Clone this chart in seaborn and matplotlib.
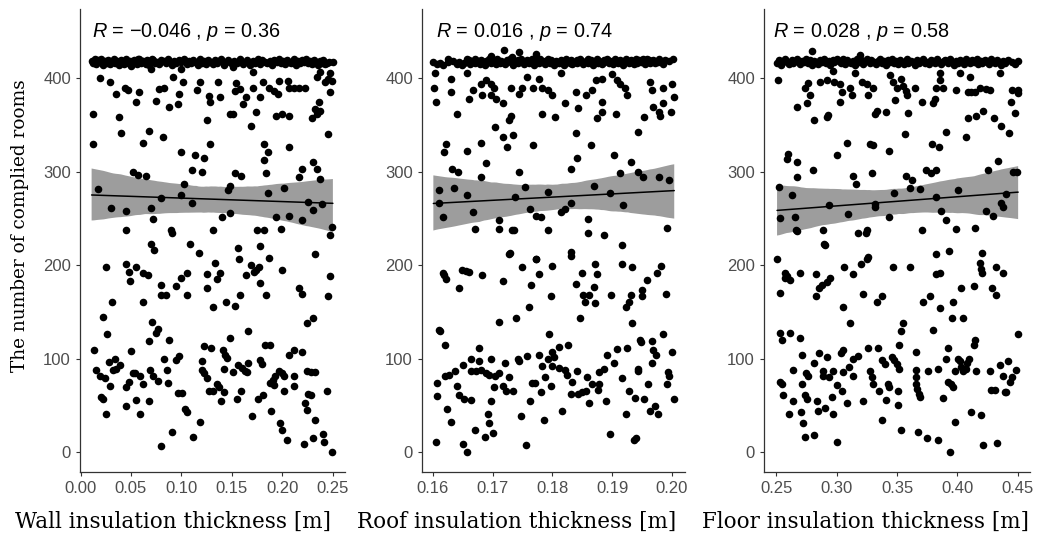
import matplotlib
matplotlib.use("Agg")
import matplotlib.pyplot as plt
import seaborn as sns
import pandas as pd

# ---------------- data ----------------
# Panel 1: wall insulation thickness [m] vs number of complied rooms
wall_x = [
    .019, .029, .035, .044, .047, .055, .058, .012, .012, .038,
    .040, .062, .068, .082, .075, .078, .083, .088, .097, .098,
    .102, .092, .100, .070, .125, .115, .118, .127, .128, .136,
    .138, .148, .151, .151, .154, .158, .153, .164, .161, .171,
    .171, .178, .174, .169, .181, .187, .192, .196, .194, .200,
    .207, .197, .206, .207, .211, .216, .222, .229, .234, .232,
    .237, .236, .245, .247, .234, .242, .249, .237, .247, .245,
    .052, .057, .065, .100, .113, .122, .110, .120, .128, .153,
    .159, .182, .186, .182, .184, .207, .219, .216, .230, .234, .237,
    .017, .103, .100, .080, .110, .148, .146, .186, .202, .225,
    .230, .239, .030, .045, .070, .072, .045, .090, .091, .131,
    .148, .140, .175, .182, .194, .207, .199, .219, .249, .247,
    .070, .073, .108, .156, .178, .232,
    .025, .045, .048, .049, .055, .062, .067, .031, .062, .022,
    .026, .071, .077, .075, .068, .080, .080, .085, .095, .100,
    .105, .105, .117, .125, .125, .133, .135, .138, .131, .144,
    .153, .157, .158, .164, .169, .174, .177, .178, .172, .187,
    .184, .200, .216, .219, .247, .245, .224, .230, .166,
    .013, .015, .019, .024, .020, .022, .025, .028, .029, .034,
    .035, .039, .032, .045, .048, .050, .052, .054, .045, .055,
    .059, .059, .062, .068, .069, .072, .077, .080, .083, .086,
    .088, .087, .091, .095, .098, .097, .101, .104, .105, .111,
    .118, .120, .122, .125, .120, .122, .129, .127, .131, .135,
    .137, .139, .142, .141, .143, .145, .142, .148, .151, .155,
    .159, .156, .160, .163, .166, .165, .170, .176, .181, .178,
    .180, .183, .188, .188, .191, .193, .192, .189, .197, .200,
    .202, .198, .200, .205, .202, .207, .211, .211, .211, .219,
    .221, .222, .224, .224, .228, .232, .225, .228, .230, .232,
    .240, .241, .244, .249,
]
wall_y = [
    400, 396, 383, 390, 387, 374, 385, 362, 330, 358,
    341, 331, 343, 337, 376, 388, 390, 369, 372, 383,
    396, 401, 410, 410, 355, 387, 396, 381, 374, 396,
    380, 362, 362, 412, 395, 388, 386, 380, 372, 407,
    390, 380, 364, 349, 396, 390, 386, 383, 360, 362,
    360, 397, 397, 390, 389, 389, 389, 357, 362, 367,
    365, 374, 340, 385, 401, 396, 397, 407, 406, 399,
    300, 296, 295, 321, 318, 315, 302, 300, 330, 298,
    295, 330, 321, 312, 298, 326, 303, 294, 310, 303, 292,
    281, 287, 275, 272, 266, 285, 280, 277, 282, 267,
    259, 265, 261, 258, 261, 249, 237, 237, 234, 237,
    256, 251, 237, 238, 251, 252, 239, 248, 241, 232,
    223, 216, 223, 218, 220, 212,
    198, 201, 193, 183, 198, 191, 189, 160, 161, 144,
    126, 139, 132, 127, 119, 179, 168, 168, 178, 186,
    191, 168, 213, 190, 175, 202, 185, 192, 155, 161,
    156, 206, 168, 189, 200, 195, 198, 181, 193, 208,
    168, 195, 175, 169, 188, 167, 138, 143, 130,
    109, 88, 81, 79, 59, 57, 41, 96, 71, 100,
    89, 93, 88, 70, 75, 108, 85, 85, 49, 56,
    41, 81, 73, 55, 88, 81, 76, 6, 100, 88,
    120, 74, 21, 98, 103, 63, 63, 46, 43, 16,
    32, 88, 84, 79, 97, 113, 111, 65, 65, 73,
    70, 55, 64, 109, 104, 101, 89, 122, 86, 57,
    65, 93, 90, 87, 95, 86, 39, 57, 61, 98,
    94, 114, 114, 74, 77, 81, 72, 44, 87, 84,
    81, 31, 24, 13, 65, 104, 109, 81, 71, 107,
    9, 52, 45, 87, 86, 86, 62, 61, 15, 34,
    19, 11, 65, 0,
]
# dense band of points near the maximum (about 415-420 rooms)
wall_top_x = [
    .011, .012, .014, .015, .017, .019, .020, .022, .024, .026,
    .027, .029, .031, .033, .034, .036, .038, .040, .041, .043,
    .045, .047, .049, .050, .053, .055, .056, .058, .060, .062,
    .064, .066, .068, .069, .071, .074, .076, .078, .080, .083,
    .085, .087, .089, .091, .093, .095, .098, .100, .103, .105,
    .107, .109, .111, .113, .116, .118, .120, .122, .124, .126,
    .128, .131, .133, .135, .137, .139, .142, .144, .146, .149,
    .152, .155, .158, .161, .163, .165, .168, .171, .173, .176,
    .178, .180, .183, .185, .188, .190, .192, .195, .197, .199,
    .201, .203, .205, .207, .209, .211, .213, .215, .217, .219,
    .221, .223, .225, .227, .229, .231, .233, .235, .237, .239,
    .240, .052, .242, .057, .244, .061, .246, .065, .072, .250,
]
wall_top_y = [
    418, 416, 420, 415, 419, 417, 421, 414, 418, 416,
    419, 415, 417, 420, 416, 418, 414, 419, 417, 415,
    420, 416, 418, 413, 419, 417, 415, 421, 416, 418,
    417, 419, 414, 418, 420, 416, 417, 415, 419, 418,
    416, 420, 417, 414, 418, 416, 419, 417, 421, 415,
    418, 416, 419, 417, 414, 420, 416, 418, 415, 419,
    417, 415, 419, 416, 418, 420, 414, 417, 419, 416,
    418, 416, 420, 415, 417, 419, 414, 418, 416, 420,
    415, 419, 417, 416, 418, 414, 419, 417, 420, 416,
    418, 415, 419, 417, 416, 420, 414, 418, 416, 419,
    417, 420, 416, 418, 415, 419, 417, 414, 418, 416,
    419, 417, 415, 420, 416, 418, 417, 415, 419, 417,
]

# Panel 2: roof insulation thickness [m]
roof_x = [
    .1720, .1744, .1773, .1697, .1733, .1603, .1602, .1606, .1631, .1631,
    .1640, .1661, .1667, .1657, .1681, .1689, .1682, .1697, .1706, .1703,
    .1697, .1717, .1731, .1731, .1728, .1744, .1750, .1758, .1767, .1778,
    .1783, .1792, .1800, .1783, .1804, .1822, .1814, .1839, .1843, .1856,
    .1867, .1873, .1883, .1875, .1883, .1883, .1906, .1900, .1908, .1914,
    .1922, .1925, .1964, .1967, .1953, .1969, .1978, .1981, .1986, .2000,
    .2003, .1999, .1986,
    .1622, .1619, .1633, .1642, .1657, .1681, .1689, .1681, .1704, .1718,
    .1734, .1725, .1744, .1767, .1831, .1839, .1842, .1864, .1903, .1931,
    .1944, .1914, .1944, .1951, .1978, .1996,
    .1611, .1610, .1617, .1636, .1658, .1667, .1671, .1711, .1711, .1733,
    .1736, .1738, .1754, .1762, .1772, .1781, .1792, .1792, .1814, .1822,
    .1831, .1860, .1860, .1869, .1886, .1897, .1918, .1992, .1916, .1728,
    .1772, .1831, .1831,
    .1606, .1607, .1607, .1610, .1612, .1617, .1619, .1622, .1621, .1621,
    .1628, .1638, .1624, .1631, .1640, .1644, .1644, .1653, .1664, .1650,
    .1649, .1656, .1661, .1651, .1657, .1664, .1677, .1664, .1672, .1678,
    .1681, .1671, .1682, .1689, .1694, .1697, .1687, .1693, .1694, .1697,
    .1701, .1702, .1704, .1710, .1710, .1717, .1717, .1721, .1723, .1727,
    .1729, .1734, .1739, .1743, .1744, .1747, .1750, .1756, .1757, .1761,
    .1762, .1764, .1766, .1771, .1772, .1777, .1778, .1781, .1782, .1786,
    .1788, .1794, .1797, .1799, .1797, .1793, .1800, .1803, .1800, .1811,
    .1811, .1817, .1822, .1825, .1827, .1833, .1832, .1843, .1850, .1857,
    .1840, .1842, .1847, .1849, .1851, .1854, .1861, .1858, .1862, .1867,
    .1869, .1871, .1875, .1872, .1877, .1878, .1878, .1886, .1889, .1892,
    .1897, .1899, .1903, .1908, .1916, .1916, .1923, .1925, .1923, .1928,
    .1932, .1928, .1933, .1933, .1936, .1940, .1938, .1943, .1944, .1946,
    .1949, .1950, .1950, .1954, .1958, .1960, .1964, .1966, .1966, .1969,
    .1973, .1972, .1977, .1975, .1982, .1986, .1990, .1992, .1994, .1996,
    .2000, .2004,
]
roof_y = [
    430, 428, 426, 424, 423, 405, 390, 374, 399, 385,
    362, 378, 387, 406, 394, 398, 382, 382, 378, 389,
    394, 373, 389, 360, 355, 383, 389, 401, 390, 399,
    389, 387, 382, 362, 358, 373, 406, 385, 368, 382,
    387, 398, 399, 357, 364, 374, 362, 404, 398, 394,
    390, 382, 396, 387, 358, 369, 364, 360, 373, 394,
    380, 364, 390,
    330, 321, 303, 300, 322, 331, 309, 294, 348, 337,
    339, 326, 300, 329, 303, 341, 315, 329, 318, 310,
    342, 298, 300, 294, 294, 291,
    280, 266, 251, 282, 275, 257, 239, 248, 239, 237,
    238, 273, 284, 260, 253, 251, 278, 237, 257, 260,
    266, 249, 234, 285, 232, 277, 264, 240, 222, 212,
    207, 214, 210,
    11, 74, 60, 131, 130, 192, 189, 185, 114, 81,
    82, 87, 46, 32, 71, 175, 61, 57, 56, 93,
    195, 194, 193, 9, 0, 99, 111, 87, 87, 97,
    88, 24, 189, 85, 82, 99, 16, 41, 31, 55,
    20, 70, 81, 85, 139, 183, 71, 95, 65, 80,
    213, 65, 143, 100, 97, 39, 198, 7, 103, 155,
    55, 179, 74, 74, 206, 104, 190, 64, 92, 34,
    80, 126, 167, 199, 71, 100, 107, 102, 92, 90,
    112, 44, 88, 82, 114, 75, 62, 62, 64, 65,
    180, 87, 143, 191, 168, 161, 168, 80, 52, 73,
    177, 201, 190, 159, 66, 73, 86, 89, 55, 104,
    19, 168, 95, 110, 201, 79, 41, 111, 155, 161,
    168, 65, 198, 138, 13, 15, 58, 87, 89, 120,
    118, 173, 167, 57, 184, 73, 44, 119, 95, 109,
    104, 49, 41, 192, 199, 126, 169, 73, 86, 81,
    107, 57,
]
roof_top_x = [
    .1601, .1945, .1607, .1952, .1612, .1957, .1617, .1962, .1625, .1626,
    .1971, .1634, .1979, .1640, .1989, .1644, .1649, .1995, .1653, .1658,
    .1661, .1662, .1667, .1670, .1671, .1676, .1679, .1680, .1685, .1688,
    .1689, .1694, .1697, .1698, .1703, .1706, .1707, .1712, .1715, .1716,
    .1721, .1724, .1725, .1730, .1733, .1734, .1739, .1742, .1743, .1748,
    .1751, .1752, .1757, .1760, .1761, .1766, .1769, .1770, .1775, .1778,
    .1779, .1784, .1787, .1788, .1793, .1796, .1797, .1802, .1805, .1806,
    .1811, .1814, .1815, .1820, .1823, .1824, .1829, .1832, .1833, .1838,
    .1841, .1842, .1847, .1850, .1851, .1856, .1859, .1860, .1865, .1868,
    .1869, .1874, .1877, .1878, .1883, .1886, .1887, .1892, .1895, .1896,
    .1901, .1904, .1905, .1910, .1913, .1914, .1919, .1922, .1923, .1928,
    .1931, .1932, .1937, .1940, .1941, .1946, .1949, .1950, .1955, .1958,
    .1959, .1964, .1968, .1976, .1985, .2002,
]
roof_top_y = [
    417, 419, 415, 420, 416, 418, 414, 419, 417, 421,
    416, 418, 420, 415, 419, 417, 414, 418, 416, 420,
    419, 415, 417, 421, 416, 418, 415, 419, 417, 414,
    418, 420, 416, 417, 419, 415, 421, 416, 418, 417,
    415, 419, 417, 420, 416, 414, 418, 419, 416, 421,
    417, 415, 419, 418, 416, 420, 414, 417, 419, 416,
    420, 417, 415, 418, 421, 416, 419, 414, 417, 418,
    416, 419, 417, 414, 420, 418, 416, 419, 415, 417,
    419, 416, 420, 417, 415, 418, 421, 416, 419, 414,
    417, 420, 416, 418, 415, 419, 417, 421, 416, 418,
    415, 418, 420, 416, 419, 417, 414, 418, 420, 416,
    419, 417, 415, 420, 416, 418, 417, 419, 415, 421,
    418, 416, 419, 417, 415, 420,
]

# Panel 3: floor insulation thickness [m]
floor_x = [
    .2794, .3193, .2519, .2670, .2739, .2767, .2780, .2759, .2814, .2863,
    .2918, .2979, .2932, .2918, .2973, .3028, .3042, .3028, .3124, .3110,
    .3152, .3212, .3248, .3262, .3303, .3317, .3336, .3408, .3441, .3468,
    .3496, .3482, .3537, .3551, .3573, .3584, .3592, .3647, .3565, .3708,
    .3798, .3812, .3826, .3859, .3881, .3853, .3908, .3991, .4019, .4087,
    .4115, .4142, .4101, .4087, .4156, .4211, .4068, .4183, .4233, .4266,
    .4299, .4362, .4426, .4445, .4472, .4453, .4498, .4502, .4349,
    .2602, .2594, .2670, .2676, .2808, .3001, .3083, .3138, .3160, .3276,
    .3298, .3290, .3435, .3573, .3628, .3606, .3793, .3848, .3738, .3785,
    .3826, .4252, .4335, .4461, .4496,
    .2527, .2629, .2533, .2657, .2665, .2676, .2885, .2896, .2940, .3097,
    .3179, .3248, .3242, .3317, .3317, .3435, .3474, .3688, .3710, .3826,
    .3867, .3908, .3991, .4005, .4142, .4233, .4294, .4362, .4376, .4404,
    .3826, .3931, .4206, .3262, .2511,
    .2533, .2574, .2589, .2616, .2574, .2698, .2830, .2830, .2857, .2876,
    .2918, .2946, .2904, .3064, .3056, .3111, .3133, .3199, .3254, .3221,
    .3336, .3372, .3463, .3551, .3537, .3611, .3716, .3777, .3798, .3826,
    .3859, .3853, .3964, .3958, .4046, .4032, .4134, .4186, .4192, .4199,
    .4316, .4288, .4316, .4376,
    .2531, .2547, .2616, .2536, .2547, .2555, .2610, .2638, .2638, .2698,
    .2712, .2712, .2706, .2726, .2739, .2753, .2739, .2748, .2767, .2814,
    .2814, .2836, .2850, .2858, .2885, .2891, .2904, .2924, .2940, .2959,
    .2968, .2973, .3006, .3001, .3034, .3056, .3042, .3056, .3083, .3105,
    .3138, .3180, .3138, .3215, .3262, .3276, .3290, .3298, .3345, .3353,
    .3372, .3400, .3380, .3413, .3427, .3435, .3457, .3474, .3496, .3510,
    .3510, .3518, .3518, .3537, .3661, .3661, .3661, .3661, .3667, .3683,
    .3688, .3675, .3749, .3757, .3840, .3840, .3881, .3903, .3922, .3922,
    .3950, .3964, .3942, .3977, .3977, .4005, .4019, .4032, .4046, .4074,
    .4082, .4096, .4115, .4134, .4142, .4156, .4197, .4211, .4266, .4280,
    .4308, .4327, .4354, .4376, .4390, .4404, .4418, .4431, .4453, .4481,
    .4500,
]
floor_y = [
    429, 425, 398, 369, 389, 395, 382, 373, 355, 396,
    398, 396, 361, 358, 408, 374, 385, 394, 382, 390,
    406, 396, 394, 382, 390, 362, 365, 364, 403, 396,
    389, 377, 399, 392, 386, 382, 363, 390, 340, 374,
    373, 378, 389, 398, 390, 406, 342, 387, 406, 385,
    385, 385, 401, 357, 360, 365, 337, 390, 388, 387,
    357, 349, 341, 374, 363, 387, 387, 384, 406,
    319, 314, 310, 294, 302, 318, 331, 295, 287, 330,
    329, 299, 322, 295, 291, 282, 330, 326, 302, 298,
    302, 302, 311, 300, 300,
    284, 275, 250, 251, 238, 236, 237, 223, 264, 255,
    234, 238, 234, 265, 262, 251, 277, 281, 238, 273,
    258, 248, 239, 280, 240, 258, 252, 266, 262, 276,
    212, 215, 213, 209, 207,
    170, 192, 188, 184, 186, 192, 190, 167, 176, 179,
    182, 186, 222, 198, 155, 138, 190, 201, 207, 169,
    160, 167, 198, 138, 130, 198, 161, 167, 131, 190,
    192, 154, 160, 143, 143, 175, 178, 202, 196, 191,
    198, 175, 168, 191,
    127, 120, 127, 75, 73, 61, 41, 88, 55, 122,
    104, 73, 43, 31, 61, 57, 16, 84, 81, 18,
    95, 55, 44, 106, 87, 81, 47, 102, 80, 59,
    41, 87, 11, 72, 106, 109, 65, 86, 52, 91,
    100, 103, 81, 55, 111, 87, 80, 73, 111, 65,
    98, 94, 34, 56, 73, 70, 102, 98, 94, 65,
    50, 114, 89, 24, 107, 88, 80, 73, 67, 62,
    59, 21, 15, 87, 89, 13, 58, 99, 111, 75,
    73, 70, 0, 32, 87, 99, 97, 91, 87, 89,
    95, 100, 43, 114, 120, 87, 40, 7, 87, 66,
    66, 10, 93, 81, 64, 64, 97, 75, 80, 88,
    126,
]
floor_top_x = [
    .2508, .2526, .2541, .2560, .2575, .2594, .2610, .2628, .2643, .2662,
    .2677, .2696, .2712, .2730, .2745, .2764, .2779, .2798, .2814, .2832,
    .2847, .2866, .2881, .2900, .2916, .2934, .2949, .2968, .2983, .3002,
    .3018, .3036, .3051, .3070, .3085, .3104, .3120, .3138, .3153, .3172,
    .3187, .3206, .3222, .3240, .3255, .3274, .3289, .3308, .3324, .3342,
    .3357, .3376, .3391, .3410, .3426, .3444, .3459, .3478, .3493, .3512,
    .3528, .3546, .3561, .3580, .3595, .3614, .3630, .3648, .3663, .3682,
    .3697, .3716, .3732, .3750, .3765, .3784, .3799, .3818, .3834, .3852,
    .3867, .3886, .3901, .3920, .3936, .3954, .3969, .3988, .4003, .4022,
    .4038, .4056, .4071, .4090, .4105, .4124, .4140, .4158, .4173, .4192,
    .4207, .4226, .4242, .4260, .4275, .4294, .4309, .4328, .4344, .4362,
    .4377, .4396, .4421, .4448, .4476, .4502,
]
floor_top_y = [
    416, 419, 414, 418, 420, 417, 415, 419, 416, 418,
    420, 415, 418, 417, 421, 416, 419, 414, 418, 417,
    415, 419, 417, 420, 416, 418, 414, 419, 417, 421,
    418, 416, 420, 415, 419, 417, 416, 418, 414, 420,
    417, 419, 415, 418, 420, 416, 419, 417, 415, 418,
    420, 416, 418, 414, 419, 417, 421, 416, 418, 415,
    419, 417, 415, 420, 416, 418, 417, 414, 419, 416,
    418, 420, 416, 417, 415, 419, 418, 416, 420, 417,
    415, 418, 419, 416, 420, 417, 414, 418, 416, 419,
    417, 415, 420, 418, 416, 419, 417, 421, 415, 418,
    416, 419, 417, 415, 420, 418, 416, 419, 417, 414,
    418, 416, 419, 417, 415, 418,
]

x_labels = ["Wall insulation thickness [m]", "Roof insulation thickness [m]",
            "Floor insulation thickness [m]"]
y_label = "The number of complied rooms"
stat_texts = ["$R$ = \u22120.046 , $p$ = 0.36", "$R$ = 0.016 , $p$ = 0.74",
              "$R$ = 0.028 , $p$ = 0.58"]
wall_ticks = [0.00, 0.05, 0.10, 0.15, 0.20, 0.25]
roof_ticks = [0.16, 0.17, 0.18, 0.19, 0.20]
floor_ticks = [0.25, 0.30, 0.35, 0.40, 0.45]
y_ticks = [0, 100, 200, 300, 400]

# ---------------- style ----------------
sns.set_theme(style="ticks")
plt.rcParams["font.family"] = ["Liberation Sans", "DejaVu Sans"]
plt.rcParams["mathtext.fontset"] = "custom"
plt.rcParams["mathtext.rm"] = "Liberation Sans"
plt.rcParams["mathtext.it"] = "Liberation Sans:italic"

W, H = 1041, 535
fig = plt.figure(figsize=(W / 100, H / 100), dpi=100)
fig.patch.set_facecolor("white")

panels = [
    (wall_x + wall_top_x, wall_y + wall_top_y, wall_ticks, (-0.0005, 0.262), 80, 345, 0.0109, 0.351),
    (roof_x + roof_top_x, roof_y + roof_top_y, roof_ticks, (0.1582, 0.2022), 422, 685, 0.1605, 0.361),
    (floor_x + floor_top_x, floor_y + floor_top_y, floor_ticks, (0.2400, 0.4600), 764, 1030, 0.2475, 0.380),
]
top_px, bot_px = 9, 472
for i, (xs, ys, ticks, xlim, l, r, tx, lx) in enumerate(panels):
    ax = fig.add_axes([l / W, (H - bot_px) / H, (r - l) / W, (bot_px - top_px) / H])
    df = pd.DataFrame({"x": xs, "y": ys})
    sns.regplot(data=df, x="x", y="y", ax=ax, scatter=False, ci=95, seed=3,
                color="black", line_kws={"linewidth": 1.1, "zorder": 4})
    for coll in ax.collections:
        coll.set_facecolor("#9d9d9d")
        coll.set_alpha(1)
        coll.set_edgecolor("none")
        coll.set_zorder(1)
    sns.scatterplot(data=df, x="x", y="y", ax=ax, color="black", s=30,
                    linewidth=0, zorder=3, legend=False)
    ax.set_xlim(*xlim)
    ax.set_ylim(-21.4, 474)
    ax.set_xticks(ticks)
    ax.set_xticklabels(["{:.2f}".format(t) for t in ticks])
    ax.set_yticks(y_ticks)
    ax.set_yticklabels([str(t) for t in y_ticks])
    ax.tick_params(axis="both", length=3, width=0.8, color="#333333",
                   labelcolor="#4d4d4d", labelsize=12, pad=3.5)
    for s in ["top", "right"]:
        ax.spines[s].set_visible(False)
    for s in ["left", "bottom"]:
        ax.spines[s].set_color("#333333")
        ax.spines[s].set_linewidth(0.9)
    ax.set_facecolor("white")
    ax.set_xlabel(x_labels[i], family="DejaVu Serif", fontsize=15.5, color="black")
    ax.xaxis.label.set_va("baseline")
    ax.xaxis.set_label_coords(lx, -0.121)
    if i == 0:
        ax.set_ylabel(y_label, family="DejaVu Serif", fontsize=13.3, color="black")
        ax.yaxis.label.set_va("center")
        ax.yaxis.set_label_coords(-0.226, 0.533)
    else:
        ax.set_ylabel("")
    ax.text(tx, 444, stat_texts[i], fontsize=14.3, color="black",
            ha="left", va="baseline")

fig.savefig("out.png", dpi=100, facecolor="white")
